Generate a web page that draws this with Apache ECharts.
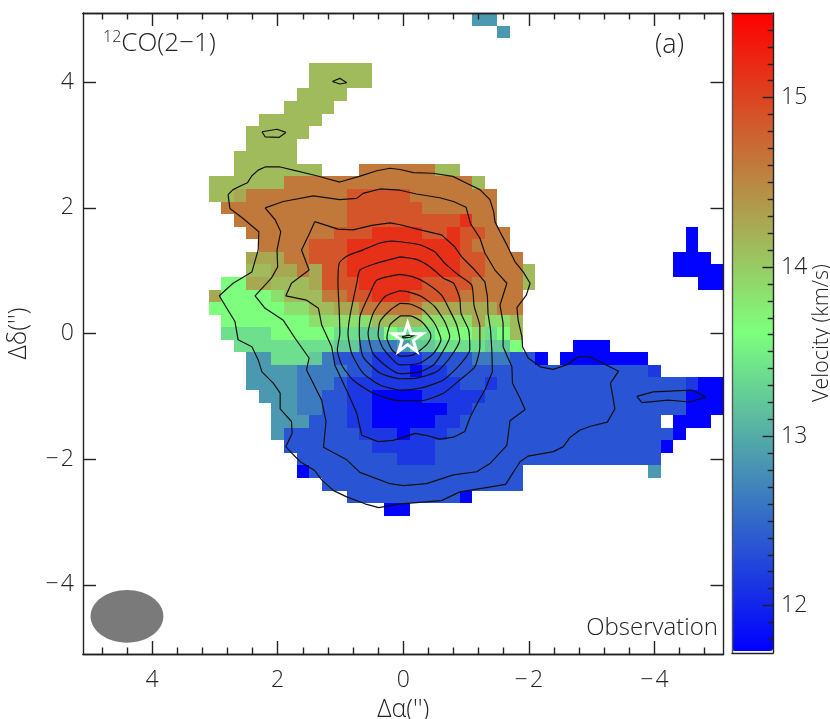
<!DOCTYPE html>
<html><head><meta charset="utf-8">
<style>html,body{margin:0;padding:0;background:#fff}#c{width:830px;height:719px}</style>
<script src="https://cdn.jsdelivr.net/npm/echarts@6/dist/echarts.min.js"></script>
</head><body><div id="c"></div>
<script>
// Velocity levels (km/s)
const levels = {a:11.72,b:12.12,c:12.33,d:12.62,e:12.84,F:13.2,f:13.36,g:13.6,h:13.84,i:14.11,j:14.25,k:14.6,l:14.87,m:15.14};
// Map cells: [row from top, runs "level startCol-endCol"]; columns run from +5.0" to -5.0", rows from +5.0" to -5.0" in 0.2" steps
const velocityRuns = [
[0,"e31-32"],[1,"e33-33"],
[4,"i18-22"],[5,"i18-22"],[6,"i17-20"],[7,"i16-19"],[8,"i14-18"],[9,"i13-17"],[10,"i13-16"],[11,"i12-16"],
[12,"i12-18 k22-27 i28-29"],
[13,"i10-15 k16-30 i31-31"],
[14,"i10-11 j12-12 k13-20 l21-25 k26-32"],
[15,"k11-20 l21-26 k27-32"],
[16,"k12-20 l21-29 m30-30 k31-32"],
[17,"k13-19 l20-22 m23-26 l27-28 m29-29 l30-31 k32-33 a48-48"],
[18,"k14-17 l18-20 m21-29 l30-30 k31-33 a48-48"],
[19,"j13-15 k16-17 l18-20 m21-29 l30-31 k32-34 a47-49"],
[20,"i13-14 j15-16 k17-17 j18-18 l19-20 m21-29 l30-31 k32-34 i35-35 a47-50"],
[21,"g11-12 j13-14 i15-17 j18-18 l19-21 m22-26 l27-30 k31-34 i35-35 a49-50"],
[22,"j10-10 g11-14 h15-15 i16-18 k19-20 l21-22 m23-25 l26-29 k30-34"],
[23,"g10-15 h16-17 i18-19 j20-21 k22-26 j27-32 k33-34"],
[24,"g11-17 h18-22 i23-26 h27-30 j31-31 h32-33 i34-34"],
[25,"f11-14 g15-19 f20-21 F22-23 g24-24 f25-27 g28-30 h31-31 f32-32 g33-33 i34-34"],
[26,"f12-19 F20-21 d22-24 e25-25 F26-27 f28-31 F32-33 g34-34 a39-41"],
[27,"e13-14 f15-17 F18-18 d19-19 c20-22 b23-26 c27-30 d31-33 c34-35 a36-36 a38-44"],
[28,"e13-16 d17-20 c21-22 b23-25 a26-26 b27-28 c29-44 b45-45"],
[29,"e13-16 d17-19 c20-20 b21-29 c30-31 b32-32 c33-47 b48-48 a49-50"],
[30,"e14-16 d17-18 c19-20 b21-22 a23-26 b27-31 c32-47 a48-50"],
[31,"e15-16 d17-18 c19-20 b21-22 a23-28 b29-30 c31-47 a48-50"],
[32,"e15-17 c18-20 b21-22 a23-27 b28-29 c30-45 a47-49"],
[33,"e15-15 c16-21 b22-24 a25-25 b26-28 c29-46 a47-47"],
[34,"c16-22 b23-27 c28-45 a46-46"],
[35,"c17-24 b25-27 c28-45"],
[36,"a17-17 c18-34 e45-45"],
[37,"c19-34"],
[38,"c21-29 a30-30"],
[39,"a24-25"]
];
// Contours in arcsec [dRA, dDec]
const contour1 = [[2.79,2.21],[2.71,2.29],[2.57,2.36],[2.48,2.40],[2.41,2.51],[2.31,2.60],[2.20,2.65],[1.96,2.65],[1.75,2.60],[1.38,2.51],[1.01,2.41],[0.70,2.50],[0.42,2.59],[0.21,2.63],[0.05,2.61],[-0.16,2.56],[-0.47,2.55],[-0.79,2.50],[-1.01,2.39],[-1.22,2.29],[-1.38,2.13],[-1.44,1.94],[-1.46,1.78],[-1.54,1.62],[-1.65,1.41],[-1.78,1.14],[-1.91,0.98],[-2.02,0.80],[-1.96,0.61],[-1.81,0.41],[-1.83,0.21],[-1.89,-0.05],[-1.90,-0.21],[-1.99,-0.39],[-2.18,-0.53],[-2.39,-0.57],[-2.60,-0.50],[-2.79,-0.37],[-2.97,-0.37],[-3.13,-0.45],[-3.43,-0.60],[-3.30,-0.79],[-3.37,-1.20],[-3.25,-1.41],[-2.97,-1.48],[-2.81,-1.54],[-2.65,-1.66],[-2.55,-1.80],[-2.39,-1.88],[-1.99,-1.95],[-1.86,-2.04],[-1.63,-2.40],[-1.27,-2.46],[-0.90,-2.52],[-0.61,-2.66],[-0.21,-2.69],[0.05,-2.71],[0.39,-2.77],[0.61,-2.71],[0.90,-2.60],[1.11,-2.50],[1.30,-2.33],[1.41,-2.18],[1.64,-2.04],[1.75,-1.93],[1.87,-1.80],[1.77,-1.59],[1.78,-1.40],[1.96,-1.20],[1.96,-0.95],[2.07,-0.79],[2.25,-0.61],[2.31,-0.42],[2.41,-0.21],[2.63,-0.10],[2.68,0.19],[2.79,0.37],[2.93,0.60],[2.71,0.80],[2.41,0.98],[2.31,1.33],[2.30,1.62],[2.55,1.83],[2.76,1.99],[2.79,2.21]];
const contour2 = [[2.20,2.00],[1.91,2.10],[1.43,2.19],[1.01,2.13],[0.74,2.15],[0.64,2.23],[0.37,2.30],[0.05,2.28],[-0.21,2.22],[-0.58,2.16],[-0.80,2.10],[-1.00,2.01],[-1.07,1.75],[-1.22,1.52],[-1.30,1.28],[-1.46,1.01],[-1.65,0.80],[-1.54,0.45],[-1.59,0.17],[-1.59,-0.21],[-1.73,-0.53],[-1.74,-0.79],[-1.86,-1.03],[-1.94,-1.21],[-1.70,-1.39],[-1.65,-1.78],[-1.38,-2.07],[-1.17,-2.20],[-0.80,-2.25],[-0.37,-2.39],[0.00,-2.42],[0.21,-2.39],[0.69,-2.21],[0.90,-2.01],[1.27,-1.81],[1.23,-1.40],[1.30,-1.06],[1.54,-0.58],[1.50,-0.39],[1.72,-0.08],[1.91,0.21],[2.20,0.40],[2.36,0.60],[2.10,0.88],[2.00,1.06],[2.01,1.33],[1.95,1.62],[2.04,1.81],[2.20,2.00]];
const contour3 = [[1.41,1.78],[1.04,1.66],[0.80,1.65],[0.50,1.72],[0.21,1.76],[0.05,1.73],[-0.27,1.65],[-0.61,1.57],[-0.82,1.38],[-0.93,1.22],[-1.14,1.01],[-1.30,0.82],[-1.34,0.59],[-1.35,0.32],[-1.39,0.06],[-1.41,-0.26],[-1.42,-0.61],[-1.30,-0.90],[-1.19,-1.09],[-1.07,-1.32],[-0.98,-1.56],[-0.80,-1.65],[-0.58,-1.68],[-0.40,-1.63],[-0.19,-1.59],[0.16,-1.70],[0.40,-1.72],[0.66,-1.62],[0.74,-1.27],[0.88,-0.95],[1.09,-0.50],[1.14,-0.21],[1.30,0.14],[1.35,0.40],[1.54,0.53],[1.87,0.60],[1.78,0.80],[1.50,1.01],[1.62,1.33],[1.49,1.60],[1.41,1.78]];
const contour4 = [[0.05,1.46],[-0.27,1.41],[-0.50,1.30],[-0.66,1.12],[-0.88,0.93],[-1.09,0.77],[-1.13,0.43],[-1.22,0.11],[-1.22,-0.21],[-1.14,-0.53],[-0.90,-0.74],[-0.64,-0.95],[-0.29,-1.07],[0.05,-1.07],[0.48,-0.95],[0.80,-0.74],[0.98,-0.50],[1.05,-0.26],[1.01,0.00],[1.02,0.37],[1.04,0.80],[1.02,1.12],[0.90,1.23],[0.64,1.33],[0.37,1.44],[0.18,1.47],[0.05,1.46]];
const contour5 = [[0.05,1.22],[-0.21,1.18],[-0.43,1.06],[-0.64,0.88],[-0.80,0.80],[-0.90,0.56],[-0.92,0.32],[-1.04,0.06],[-1.06,-0.26],[-0.90,-0.50],[-0.64,-0.74],[-0.27,-0.87],[0.05,-0.90],[0.37,-0.82],[0.64,-0.63],[0.82,-0.32],[0.88,0.00],[0.85,0.27],[0.74,0.80],[0.69,1.01],[0.42,1.12],[0.05,1.22]];
const contour6 = [[0.05,0.94],[-0.16,0.90],[-0.37,0.80],[-0.61,0.61],[-0.74,0.37],[-0.85,0.14],[-0.90,-0.10],[-0.74,-0.39],[-0.53,-0.61],[-0.21,-0.71],[0.05,-0.72],[0.37,-0.63],[0.64,-0.37],[0.70,0.00],[0.69,0.27],[0.53,0.64],[0.42,0.85],[0.05,0.94]];
const contour7 = [[0.05,0.68],[-0.05,0.67],[-0.29,0.59],[-0.50,0.43],[-0.66,0.19],[-0.74,-0.05],[-0.61,-0.32],[-0.48,-0.50],[-0.27,-0.61],[0.05,-0.64],[0.26,-0.53],[0.48,-0.32],[0.56,0.00],[0.48,0.32],[0.29,0.59],[0.05,0.68]];
const contour8 = [[0.05,0.48],[-0.11,0.47],[-0.32,0.37],[-0.50,0.16],[-0.60,-0.10],[-0.48,-0.32],[-0.27,-0.47],[0.05,-0.50],[0.32,-0.24],[0.40,-0.02],[0.37,0.19],[0.21,0.37],[0.05,0.48]];
const contour9 = [[0.05,0.28],[-0.11,0.28],[-0.29,0.19],[-0.43,0.01],[-0.44,-0.06],[-0.37,-0.18],[-0.16,-0.34],[0.05,-0.36],[0.18,-0.26],[0.26,-0.07],[0.21,0.14],[0.05,0.28]];
const contour10 = [[0.02,-0.05],[-0.07,-0.03],[-0.19,-0.02],[-0.11,-0.06],[-0.01,-0.07],[0.02,-0.05]];
const islandTop = [[1.13,4.01],[1.01,4.06],[0.90,3.99],[1.01,3.97],[1.13,4.01]];
const islandLeft = [[2.25,3.21],[2.01,3.25],[1.87,3.20],[1.98,3.12],[2.20,3.13],[2.25,3.21]];
const islandRight = [[-3.72,-1.00],[-3.98,-0.93],[-4.59,-0.90],[-4.82,-1.01],[-4.57,-1.09],[-4.22,-1.06],[-3.80,-1.10],[-3.72,-1.00]];
const outerContours = [contour1,contour2,contour3,contour10,islandTop,islandLeft,islandRight];
const innerContours = [contour4,contour5,contour6,contour7,contour8,contour9];
const starPosition = [[-0.07,-0.06]];
const beam = [[4.40,-4.50,0.58,0.42]];
const axisMajor = [-4,-2,0,2,4];
const axisMinor = [-4.8,-4.4,-3.6,-3.2,-2.8,-2.4,-1.6,-1.2,-0.8,-0.4,0.4,0.8,1.2,1.6,2.4,2.8,3.2,3.6,4.4,4.8];
const barMajor = [12,13,14,15];
const barMinor = [11.8,11.9,12.1,12.2,12.3,12.4,12.5,12.6,12.7,12.8,12.9,13.1,13.2,13.3,13.4,13.5,13.6,13.7,13.8,13.9,14.1,14.2,14.3,14.4,14.5,14.6,14.7,14.8,14.9,15.1,15.2,15.3,15.4];

const FONT = 'Open Sans', WEIGHT = 300, INK = '#222';
const CELL = 0.2;
const cells = [];
velocityRuns.forEach(([row, runs]) => runs.split(' ').forEach(run => {
  const [s, e] = run.slice(1).split('-').map(Number);
  for (let c = s; c <= e; c++) cells.push([+(5 - c*CELL).toFixed(1), +(5 - row*CELL).toFixed(1), levels[run[0]]]);
}));
const fmt = v => String(v).replace('-', '\u2212\u200a');
const labelStyle = {fontFamily: FONT, fontWeight: WEIGHT, fontSize: 23, color: INK};
const lineStyle = {color: INK, width: 1.4};
function valueAxis(position, ticks, len, labels, extra) {
  return Object.assign({
    type: 'value', gridIndex: 0, position, min: -5.1, max: 5.1, scale: false,
    splitLine: {show: false},
    axisLine: {show: true, onZero: false, lineStyle},
    axisTick: {show: true, inside: true, length: len, customValues: ticks, lineStyle},
    axisLabel: labels ? Object.assign({show: true, customValues: labels, margin: position === 'left' ? 9 : 15, formatter: fmt}, labelStyle) : {show: false},
    z: 5
  }, extra || {});
}
const nameStyle = {fontFamily: FONT, fontWeight: WEIGHT, fontSize: 25, color: INK};
const lineSeries = (c, smooth) => ({type: 'line', xAxisIndex: 0, yAxisIndex: 0, data: c, showSymbol: false, silent: true, z: 3, smooth,
  lineStyle: {color: '#111', width: 1.2}, emphasis: {disabled: true}});
const edge = v => +v.toFixed(1);
const option = {
  animation: false,
  backgroundColor: '#fff',
  grid: [
    {left: 83, right: 106.5, top: 13, bottom: 65, containLabel: false, outerBoundsMode: 'none'},
    {left: 732, right: 57, top: 13, bottom: 66, containLabel: false, outerBoundsMode: 'none'}
  ],
  xAxis: [
    valueAxis('bottom', axisMajor, 13, axisMajor, {inverse: true, name: "\u0394\u03b1('')", nameLocation: 'middle', nameGap: 43, nameTextStyle: nameStyle}),
    valueAxis('bottom', axisMinor, 6.5, null, {inverse: true}),
    valueAxis('top', axisMajor, 13, null, {inverse: true}),
    valueAxis('top', axisMinor, 6.5, null, {inverse: true}),
    {type: 'value', gridIndex: 1, position: 'top', min: 0, max: 1, z: 5, splitLine: {show: false}, axisTick: {show: false}, axisLabel: {show: false}, axisLine: {show: true, onZero: false, lineStyle}},
    {type: 'value', gridIndex: 1, position: 'bottom', min: 0, max: 1, z: 5, splitLine: {show: false}, axisTick: {show: false}, axisLabel: {show: false}, axisLine: {show: true, onZero: false, lineStyle}}
  ],
  yAxis: [
    valueAxis('left', axisMajor, 13, axisMajor, {name: "\u0394\u03b4('')", nameLocation: 'middle', nameGap: 52, nameTextStyle: nameStyle}),
    valueAxis('right', axisMajor, 13, null),
    {type: 'value', gridIndex: 1, position: 'right', min: 11.72, max: 15.5, z: 5, splitLine: {show: false},
      axisLine: {show: true, onZero: false, lineStyle},
      axisTick: {show: true, inside: true, length: 10.5, customValues: barMajor, lineStyle},
      axisLabel: Object.assign({show: true, customValues: barMajor, margin: 8}, labelStyle),
      name: 'Velocity (km/s)', nameLocation: 'middle', nameRotate: 90, nameGap: 35, nameTextStyle: Object.assign({}, nameStyle, {fontSize: 21.5})},
    {type: 'value', gridIndex: 1, position: 'right', min: 11.72, max: 15.5, z: 5, splitLine: {show: false},
      axisLine: {show: false, onZero: false},
      axisTick: {show: true, inside: true, length: 5.3, customValues: barMinor, lineStyle},
      axisLabel: {show: false}},
    {type: 'value', gridIndex: 1, position: 'left', min: 11.72, max: 15.5, z: 5, splitLine: {show: false},
      axisLine: {show: true, onZero: false, lineStyle: {color: '#555', width: 1.4}}, axisTick: {show: false}, axisLabel: {show: false}}
  ],
  visualMap: [{
    type: 'continuous', seriesIndex: 0, dimension: 2, min: 11.7, max: 15.5, show: true, calculable: false,
    left: 732, top: 13, itemWidth: 41, itemHeight: 638, padding: 0, text: null, hoverLink: false,
    inRange: {color: ['#0000ff', '#7dff7d', '#ff0000']}, textStyle: {color: 'transparent'}
  }],
  title: [
    {left: 103, top: 29, padding: 0, text: '{s|12}{n|CO(2\u22121)}', textStyle: {rich: {
      s: {fontFamily: FONT, fontWeight: WEIGHT, fontSize: 16, color: INK, verticalAlign: 'top', lineHeight: 30, padding: [0, 0, 12, 0]},
      n: {fontFamily: FONT, fontWeight: WEIGHT, fontSize: 26, color: INK, lineHeight: 30}}}},
    {left: 655, top: 32, padding: 0, text: '(a)', textStyle: {fontFamily: FONT, fontWeight: WEIGHT, fontSize: 27, color: INK}},
    {right: 112, top: 616, padding: 0, text: 'Observation', textStyle: {fontFamily: FONT, fontWeight: WEIGHT, fontSize: 24, color: INK}}
  ],
  series: [
    {type: 'custom', xAxisIndex: 0, yAxisIndex: 0, data: cells, silent: true, z: 1,
      encode: {x: 0, y: 1},
      renderItem: (p, api) => {
        const x = api.value(0), y = api.value(1);
        const a = api.coord([edge(x + CELL/2), edge(y + CELL/2)]);
        const b = api.coord([edge(x - CELL/2), edge(y - CELL/2)]);
        const x0 = Math.round(a[0]), y0 = Math.round(a[1]);
        const x1 = Math.round(b[0]), y1 = Math.round(b[1]);
        return {type: 'rect', shape: {x: x0, y: y0, width: x1 - x0, height: y1 - y0}, style: {fill: api.visual('color')}};
      }},
    {type: 'custom', xAxisIndex: 0, yAxisIndex: 0, silent: true, z: 2, data: beam,
      renderItem: (p, api) => {
        const c = api.coord([api.value(0), api.value(1)]);
        const s = api.size([api.value(2), api.value(3)], [api.value(0), api.value(1)]);
        return {type: 'ellipse', shape: {cx: c[0], cy: c[1], rx: s[0], ry: s[1]}, style: {fill: '#7a7a7a'}};
      }},
    ...outerContours.map(c => lineSeries(c, false)),
    ...innerContours.map(c => lineSeries(c, 0.2)),
    {type: 'scatter', xAxisIndex: 0, yAxisIndex: 0, data: starPosition, silent: true, z: 4, symbolSize: [30, 28],
      symbol: 'path://M15 0.6 L18.3 11.1 L29.4 11.1 L20.4 17.7 L23.7 28.5 L15 21.9 L6.3 28.5 L9.6 17.7 L0.6 11.1 L11.7 11.1 Z',
      itemStyle: {color: 'rgba(0,0,0,0)', borderColor: '#fff', borderWidth: 3, opacity: 1}}
  ]
};
echarts.init(document.getElementById('c'), null, {renderer: 'canvas'}).setOption(option);
</script></body></html>
